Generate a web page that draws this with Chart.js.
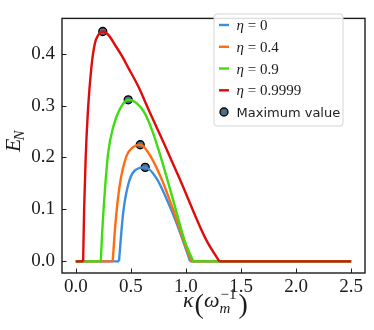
<!DOCTYPE html>
<html><head><meta charset="utf-8">
<script src="https://cdn.jsdelivr.net/npm/chart.js@4.4.1/dist/chart.umd.min.js"></script>
<style>html,body{margin:0;padding:0;background:#fff}#wrap{width:374px;height:330px}</style>
</head><body><div id="wrap"><canvas id="c" width="374" height="330"></canvas></div>
<script>
// ---- data ----
const ETA_VALUES = ['0', '0.4', '0.9', '0.9999'];
const COLORS = ['#3b8de0', '#ff6d12', '#3fdc10', '#e00b0b'];

const KAPPA_ETA0 = [0.392, 0.43, 0.476, 0.536, 0.63, 0.733, 0.855, 0.945, 1.038];
const EN_ETA0    = [0, 0.093, 0.148, 0.175, 0.181, 0.160, 0.105, 0.0566, 0];

const KAPPA_ETA04 = [0.335, 0.361, 0.40, 0.461, 0.52, 0.585, 0.65, 0.764, 0.885, 0.97, 1.05];
const EN_ETA04    = [0, 0.075, 0.148, 0.203, 0.220, 0.2245, 0.212, 0.166, 0.099, 0.045, 0];

const KAPPA_ETA09 = [0.227, 0.238, 0.264, 0.294, 0.339, 0.40, 0.476, 0.55, 0.627, 0.70, 0.78, 0.885, 0.991, 1.067];
const EN_ETA09    = [0, 0.05, 0.136, 0.209, 0.258, 0.293, 0.311, 0.305, 0.285, 0.248, 0.195, 0.117, 0.038, 0];

const KAPPA_ETA09999 = [0.067, 0.076, 0.09, 0.109, 0.143, 0.173, 0.205, 0.245, 0.30, 0.355, 0.42, 0.476, 0.567, 0.657, 0.748, 0.809, 0.876, 0.945, 1.009, 1.10, 1.19, 1.303];
const EN_ETA09999    = [0, 0.102, 0.2, 0.285, 0.376, 0.419, 0.436, 0.4425, 0.435, 0.417, 0.395, 0.373, 0.337, 0.294, 0.2515, 0.223, 0.191, 0.158, 0.126, 0.080, 0.039, 0];

const KAPPA_MAX = [0.63, 0.585, 0.476, 0.245];
const EN_MAX    = [0.181, 0.2245, 0.311, 0.4425];

const KAPPA_RANGE = [0, 2.5];
const X_TICKS = [0, 0.5, 1.0, 1.5, 2.0, 2.5];
const Y_TICKS = [0, 0.1, 0.2, 0.3, 0.4];
const MAX_LABEL = 'Maximum value';

// ---- build datasets ----
const SERIES = [
  [KAPPA_ETA0, EN_ETA0],
  [KAPPA_ETA04, EN_ETA04],
  [KAPPA_ETA09, EN_ETA09],
  [KAPPA_ETA09999, EN_ETA09999]
];
const LW = 2.4;
const zip = (xs, ys) => xs.map((x, i) => ({x: x, y: ys[i]}));
const datasets = [];
SERIES.forEach(([k, e], i) => {
  datasets.push({
    label: 'η = ' + ETA_VALUES[i],
    data: zip(k, e),
    borderColor: COLORS[i],
    borderWidth: LW,
    pointRadius: 0,
    fill: false,
    cubicInterpolationMode: 'monotone',
    order: 4 - i
  });
  const kl = k[k.length - 1];
  datasets.push({
    label: 'flat' + i,
    data: [{x: KAPPA_RANGE[0], y: 0}, {x: k[0], y: 0}, {x: (k[0] + kl) / 2, y: null}, {x: kl, y: 0}, {x: KAPPA_RANGE[1], y: 0}],
    borderColor: COLORS[i],
    borderWidth: LW,
    pointRadius: 0,
    fill: false,
    tension: 0,
    spanGaps: false,
    order: 4 - i
  });
});
datasets.push({
  label: MAX_LABEL,
  data: zip(KAPPA_MAX, EN_MAX),
  showLine: false,
  pointRadius: 4,
  pointBackgroundColor: '#4f6f89',
  pointBorderColor: '#000',
  pointBorderWidth: 1.3,
  order: 10
});

const SERIF = "'Liberation Serif', 'DejaVu Serif', serif";
const INK = '#1c1c1c';
const fmt = v => Number(v).toFixed(1);

const deco = {
  id: 'deco',
  afterDraw(chart) {
    const ctx = chart.ctx, a = chart.chartArea;
    const xs = chart.scales.x, ys = chart.scales.y;
    ctx.save();
    // frame
    ctx.strokeStyle = INK; ctx.lineWidth = 1.4;
    ctx.strokeRect(a.left, a.top, a.right - a.left, a.bottom - a.top);
    // inward ticks
    ctx.lineWidth = 1;
    ctx.beginPath();
    xs.ticks.forEach(t => { const p = Math.round(xs.getPixelForValue(t.value)) + 0.5; ctx.moveTo(p, a.bottom); ctx.lineTo(p, a.bottom - 4.5); });
    ys.ticks.forEach(t => { const p = Math.round(ys.getPixelForValue(t.value)) + 0.5; ctx.moveTo(a.left, p); ctx.lineTo(a.left + 4.5, p); });
    ctx.stroke();

    // x tick labels (positioned from the x scale)
    ctx.fillStyle = INK; ctx.textBaseline = 'alphabetic'; ctx.textAlign = 'center';
    ctx.font = '19px ' + SERIF;
    X_TICKS.forEach(v => { ctx.fillText(fmt(v), xs.getPixelForValue(v), 292); });

    // x axis title: κ(ω_m^{-1})
    ctx.textAlign = 'left';
    const base = 307;
    let x = 183;
    const put = (t, f, dx, dy) => { ctx.font = f; ctx.fillText(t, x + (dx || 0), base + (dy || 0)); return ctx.measureText(t).width; };
    x += put('κ', 'italic 22px ' + SERIF);
    x += 1;
    x += put('(', '28px ' + SERIF, 0, 6);
    x += put('ω', 'italic 22px ' + SERIF);
    const w1 = put('m', 'italic 15px ' + SERIF, 0, 6);
    const w2 = put('−1', '15px ' + SERIF, 1, -8);
    x += Math.max(w1, w2 + 1) + 2;
    put(')', '28px ' + SERIF, 0, 6);

    // y axis title: E_N
    ctx.save();
    ctx.translate(20, 152);
    ctx.rotate(-Math.PI / 2);
    ctx.font = 'italic 22px ' + SERIF;
    ctx.fillText('E', 0, 0);
    const we = ctx.measureText('E').width;
    ctx.font = 'italic 15px ' + SERIF;
    ctx.fillText('N', we - 2, 4);
    ctx.restore();

    // legend
    const L = 214, T = 14, R = 343, B = 126, r = 3;
    ctx.beginPath();
    ctx.moveTo(L + r, T); ctx.lineTo(R - r, T); ctx.arcTo(R, T, R, T + r, r);
    ctx.lineTo(R, B - r); ctx.arcTo(R, B, R - r, B, r);
    ctx.lineTo(L + r, B); ctx.arcTo(L, B, L, B - r, r);
    ctx.lineTo(L, T + r); ctx.arcTo(L, T, L + r, T, r);
    ctx.closePath();
    ctx.fillStyle = 'rgba(255,255,255,0.85)'; ctx.fill();
    ctx.strokeStyle = '#d4d4d4'; ctx.lineWidth = 1; ctx.stroke();
    const rows = [25, 46.8, 68.5, 90.3, 112];
    ETA_VALUES.forEach((v, i) => {
      const y = rows[i];
      ctx.strokeStyle = COLORS[i]; ctx.lineWidth = LW;
      ctx.beginPath(); ctx.moveTo(219, y); ctx.lineTo(229, y); ctx.stroke();
      ctx.fillStyle = INK;
      ctx.font = 'italic 15px ' + SERIF;
      ctx.fillText('η', 236.5, y + 5);
      const wh = ctx.measureText('η').width;
      ctx.font = '15px ' + SERIF;
      ctx.fillText(' = ' + v, 236.5 + wh, y + 5);
    });
    ctx.beginPath(); ctx.arc(224, rows[4], 4, 0, Math.PI * 2);
    ctx.fillStyle = '#4f6f89'; ctx.fill(); ctx.strokeStyle = '#000'; ctx.lineWidth = 1.3; ctx.stroke();
    ctx.fillStyle = INK; ctx.font = "13px 'DejaVu Sans', sans-serif";
    ctx.fillText(MAX_LABEL, 236.5, rows[4] + 4.5);
    ctx.restore();
  }
};

new Chart(document.getElementById('c'), {
  type: 'line',
  data: {datasets: datasets},
  options: {
    responsive: false,
    animation: false,
    devicePixelRatio: 1,
    layout: {padding: {top: 5, right: 9, left: 0, bottom: 0}},
    plugins: {legend: {display: false}, tooltip: {enabled: false}},
    scales: {
      x: {
        type: 'linear',
        min: -0.125, max: 2.625,
        afterBuildTicks: s => { s.ticks = X_TICKS.map(v => ({value: v})); },
        afterFit: s => { s.height = 57; },
        grid: {display: false, drawTicks: false},
        border: {display: false},
        ticks: {display: false}
      },
      y: {
        type: 'linear',
        min: -0.0223, max: 0.4677,
        afterBuildTicks: s => { s.ticks = Y_TICKS.map(v => ({value: v})); },
        afterFit: s => { s.width = 62; },
        grid: {display: false, drawTicks: false},
        border: {display: false},
        ticks: {padding: 7, color: INK, font: {family: SERIF, size: 19}, callback: fmt}
      }
    }
  },
  plugins: [deco]
});
</script>
</body></html>
